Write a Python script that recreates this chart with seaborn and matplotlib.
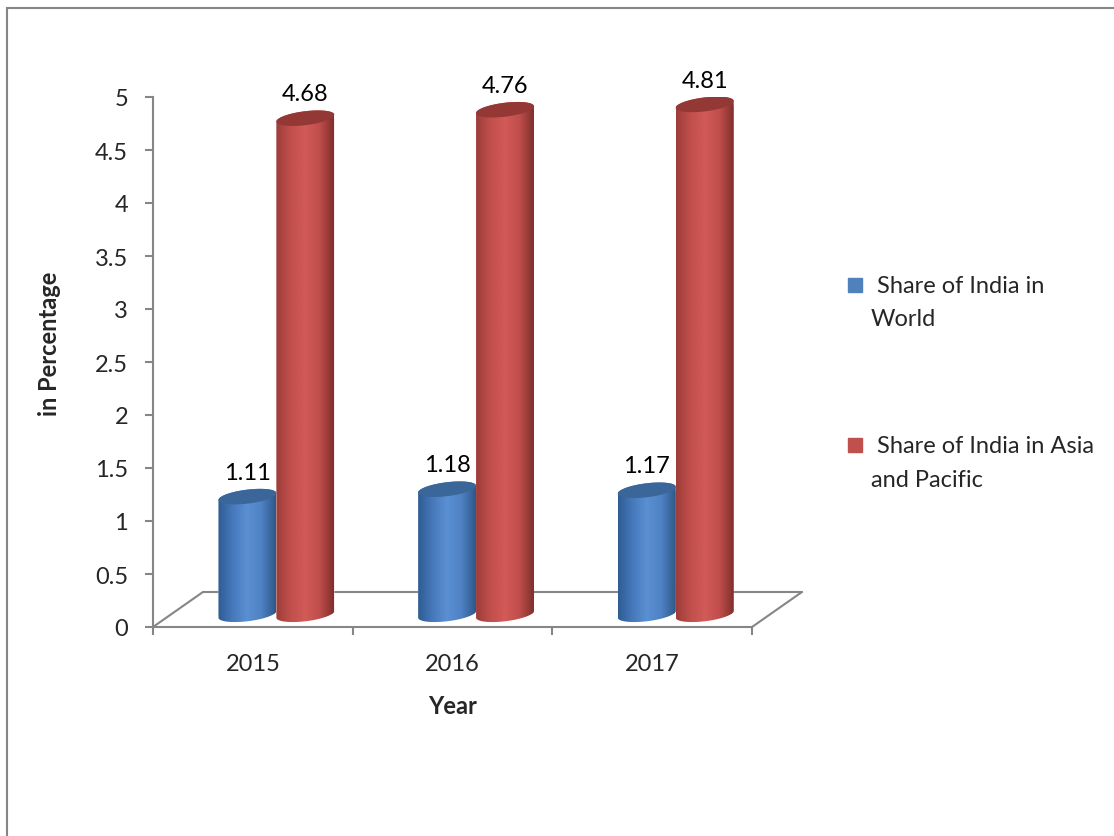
import numpy as np
import pandas as pd
import matplotlib
matplotlib.use("Agg")
import matplotlib.pyplot as plt
from matplotlib.colors import LinearSegmentedColormap
from matplotlib.patches import PathPatch, Polygon, Rectangle
from matplotlib.path import Path
from matplotlib.lines import Line2D
from matplotlib.offsetbox import HPacker
import seaborn as sns

# ---- data -------------------------------------------------------------
years = ["2015", "2016", "2017"]
share_world = [1.11, 1.18, 1.17]
share_asia_pacific = [4.68, 4.76, 4.81]
series_names = ["Share of India in World", "Share of India in Asia and Pacific"]
legend_labels = [" Share of India in\nWorld", " Share of India in Asia\nand Pacific"]
y_ticks = [0, 0.5, 1, 1.5, 2, 2.5, 3, 3.5, 4, 4.5, 5]
y_tick_labels = ["0", "0.5", "1", "1.5", "2", "2.5", "3", "3.5", "4", "4.5", "5"]

df = pd.DataFrame({
    "Year": years * 2,
    "Share": share_world + share_asia_pacific,
    "Series": [series_names[0]] * 3 + [series_names[1]] * 3,
})

# ---- style ------------------------------------------------------------
sns.set_theme(style="white")
plt.rcParams["font.family"] = ["Lato", "DejaVu Sans"]
FS = 17
GREY = "#868686"
BLUE, RED = "#4F81BD", "#C0504D"

# horizontal shading across each cylinder, dark edges and a lit middle
shades = {
    BLUE: (["#2E5C93", "#4679BB", "#5A8FD3", "#4E82C4", "#2F5787"], "#3A6699"),
    RED: (["#9C3D3A", "#C14F4C", "#D25A57", "#C04E4B", "#7F2F2D"], "#943836"),
}

FLOOR = 0.12      # cylinders stand inside the floor slab
SHIFT = 0.118     # groups sit toward the back of the floor
CAP_B = 0.066     # half-height of the elliptical ends (value units)
TILT = 0.22       # slant of the elliptical ends

fig = plt.figure(figsize=(11.14, 8.37), dpi=100)
ax = fig.add_axes([153 / 1114, 1 - 628 / 837, 599 / 1114, 530 / 837])

sns.barplot(data=df, x="Year", y="Share", hue="Series",
            palette=[BLUE, RED], width=0.58, errorbar=None,
            bottom=FLOOR, legend=False, ax=ax, zorder=3)

for p in ax.patches:
    p.set_x(p.get_x() + SHIFT)

# ---- cylinders ---------------------------------------------------------
t_up = np.linspace(np.pi, 0, 60)
t_dn = np.linspace(0, -np.pi, 60)
t_all = np.linspace(0, 2 * np.pi, 120)
for container, color in zip(ax.containers, [BLUE, RED]):
    cols, cap_col = shades[color]
    cmap = LinearSegmentedColormap.from_list("cyl", cols)
    for p in container.patches:
        x0, w = p.get_x(), p.get_width()
        y0, y1 = p.get_y(), p.get_y() + p.get_height()
        cx, a = x0 + w / 2, w / 2

        def ell(t, yc):
            xs = cx + a * np.cos(t)
            return xs, yc + CAP_B * np.sin(t) + TILT * (xs - cx)

        xu, yu = ell(t_up, y1)
        xd, yd = ell(t_dn, y0)
        verts = np.vstack([np.column_stack([xu, yu]), np.column_stack([xd, yd])])
        verts = np.vstack([verts, verts[:1]])
        outline = PathPatch(Path(verts), transform=ax.transData,
                            facecolor="none", edgecolor="none")
        ax.add_patch(outline)
        p.set_clip_path(outline)

        grad = np.linspace(0, 1, 256).reshape(1, -1)
        im = ax.imshow(grad, cmap=cmap, aspect="auto", interpolation="bilinear",
                       extent=[x0, x0 + w, y0 - CAP_B - TILT * a - 0.02,
                               y1 + CAP_B + TILT * a + 0.02],
                       origin="lower", zorder=4)
        im.set_clip_path(outline)

        xc, yc = ell(t_all, y1)
        ax.add_patch(Polygon(np.column_stack([xc, yc]), closed=True,
                             facecolor=cap_col, edgecolor="none", zorder=5))

# value labels
for container in ax.containers:
    ax.bar_label(container, labels=[f"{v:.2f}" for v in container.datavalues],
                 padding=10, fontsize=FS, color="black", zorder=6)

# ---- floor slab --------------------------------------------------------
back_y = 0.33
dx = 0.25
floor_kw = dict(color=GREY, lw=1.5, clip_on=False, zorder=2)
ax.plot([-0.5, -0.5 + dx], [0, back_y], **floor_kw)
ax.plot([-0.5 + dx, 2.5 + dx], [back_y, back_y], **floor_kw)
ax.plot([2.5, 2.5 + dx], [0, back_y], **floor_kw)

# ---- axes --------------------------------------------------------------
ax.set_xlim(-0.5, 2.5)
ax.set_ylim(0, 5)
for side in ["top", "right"]:
    ax.spines[side].set_visible(False)
for side in ["left", "bottom"]:
    ax.spines[side].set_color(GREY)
    ax.spines[side].set_linewidth(1.5)
ax.grid(False)

ax.set_yticks(y_ticks)
ax.set_yticklabels(y_tick_labels)
ax.tick_params(axis="y", length=6, width=1.5, color=GREY, pad=12,
               labelsize=FS, direction="out", left=True)

ax.set_xticks(range(len(years)))
ax.set_xticklabels(years)
ax.set_xticks([-0.5, 0.5, 1.5, 2.5], minor=True)
ax.tick_params(axis="x", which="major", length=0, pad=19, labelsize=FS)
ax.tick_params(axis="x", which="minor", length=6, width=1.5, color=GREY,
               direction="out", bottom=True)

ax.set_xlabel("Year", fontsize=FS, fontweight="bold", labelpad=14)
ax.set_ylabel("in Percentage", fontsize=FS, fontweight="bold")
ax.yaxis.set_label_coords(-0.154, 0.536)

# ---- legend ------------------------------------------------------------
handles = [Line2D([], [], marker="s", linestyle="", markersize=10,
                  markerfacecolor=c, markeredgecolor=c) for c in [BLUE, RED]]
leg = fig.legend(handles, legend_labels, loc="upper left",
                 bbox_to_anchor=(848 / 1114, 1 - 276 / 837),
                 bbox_transform=fig.transFigure, frameon=False, fontsize=FS,
                 handlelength=0.62, handleheight=1.1, handletextpad=0.36,
                 labelspacing=4.5, borderpad=0, borderaxespad=0)
for t in leg.get_texts():
    t.set_linespacing(1.72)
# square marker sits beside the first line of each wrapped label
for hp in leg.findobj(HPacker):
    hp.align = "top"

# outer chart border
fig.add_artist(Rectangle((7 / 1114, -0.1), 1.2, 1.1 - 9 / 837,
                         transform=fig.transFigure, fill=False,
                         edgecolor=GREY, linewidth=1.5))

fig.savefig("out.png", dpi=100, facecolor="white")
